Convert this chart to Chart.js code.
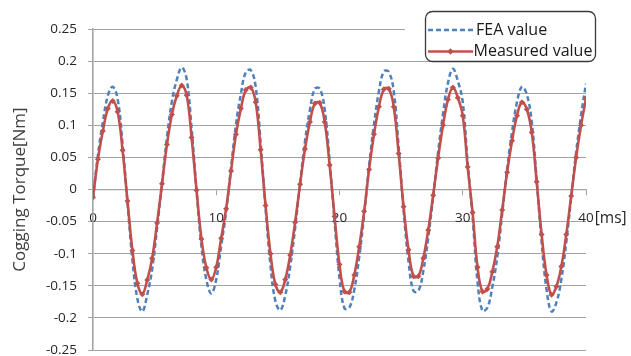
<!DOCTYPE html>
<html>
<head>
<meta charset="utf-8">
<script src="https://cdn.jsdelivr.net/npm/chart.js@4/dist/chart.umd.min.js"></script>
<style>
html,body{margin:0;padding:0;background:#ffffff;}
canvas{display:block;}
</style>
</head>
<body>
<canvas id="c" width="631" height="356"></canvas>
<script>
// ---- data ----
const TIME_STEP_MS = 0.4;               // sampling interval of the measured markers
const seriesNames = ['FEA value', 'Measured value'];
const measuredValues = [
 -0.012, 0.047, 0.091, 0.126, 0.138, 0.121, 0.061,-0.018,-0.095,-0.146,
 -0.163,-0.141,-0.107,-0.052, 0.009, 0.070, 0.117, 0.146, 0.162, 0.147,
  0.081,-0.001,-0.077,-0.122,-0.140,-0.121,-0.076,-0.030, 0.029, 0.086,
  0.126, 0.155, 0.159, 0.136, 0.062,-0.025,-0.100,-0.148,-0.160,-0.140,
 -0.102,-0.051, 0.008, 0.063, 0.105, 0.134, 0.135, 0.105, 0.038,-0.042,
 -0.117,-0.159,-0.160,-0.133,-0.089,-0.034, 0.031, 0.086, 0.129, 0.156,
  0.157, 0.129, 0.056,-0.027,-0.094,-0.135,-0.135,-0.107,-0.063,-0.009,
  0.049, 0.100, 0.140, 0.159, 0.143, 0.115, 0.035,-0.036,-0.121,-0.159,
 -0.155,-0.128,-0.089,-0.032, 0.027, 0.076, 0.115, 0.136, 0.125, 0.089,
  0.012,-0.070,-0.133,-0.164,-0.151,-0.120,-0.070,-0.010, 0.050, 0.100,
  0.142
];
const feaValues = [
 -0.014, 0.054, 0.105, 0.146, 0.160, 0.141, 0.071,-0.021,-0.110,-0.170,
 -0.190,-0.164,-0.124,-0.060, 0.010, 0.081, 0.137, 0.171, 0.190, 0.172,
  0.095,-0.001,-0.089,-0.141,-0.162,-0.140,-0.088,-0.035, 0.034, 0.101,
  0.149, 0.183, 0.186, 0.160, 0.073,-0.029,-0.118,-0.174,-0.188,-0.165,
 -0.120,-0.060, 0.009, 0.075, 0.124, 0.157, 0.157, 0.124, 0.045,-0.050,
 -0.138,-0.185,-0.184,-0.156,-0.105,-0.040, 0.037, 0.102, 0.153, 0.184,
  0.183, 0.153, 0.066,-0.032,-0.112,-0.158,-0.158,-0.127,-0.075,-0.011,
  0.058, 0.118, 0.166, 0.188, 0.169, 0.136, 0.041,-0.043,-0.144,-0.189,
 -0.184,-0.152,-0.105,-0.038, 0.032, 0.090, 0.136, 0.160, 0.148, 0.105,
  0.014,-0.082,-0.156,-0.190,-0.176,-0.140,-0.082,-0.012, 0.058, 0.116,
  0.165
];
const timeMs = measuredValues.map((_, i) => Math.round(i * TIME_STEP_MS * 10) / 10);
const xTicks = [0, 10, 20, 30, 40];
const xTickLabels = ['0', '10', '20', '30', '40'];
const xUnitLabel = '[ms]';
const yTicks = [-0.25, -0.2, -0.15, -0.1, -0.05, 0, 0.05, 0.1, 0.15, 0.2, 0.25];
const yTickLabels = ['-0.25', '-0.2', '-0.15', '-0.1', '-0.05', '0', '0.05', '0.1', '0.15', '0.2', '0.25'];
const yTitle = 'Cogging Torque[Nm]';

// ---- style ----
const FONT = '"Open Sans", "Noto Sans", sans-serif';
const BLUE = '#4F81BD';
const RED = '#C0504D';
const GRID = '#a3a3a3';
const TICK_FONT_SIZE = 13.5;

const toPoints = vals => vals.map((v, i) => ({ x: timeMs[i], y: v }));

const extras = {
  id: 'extras',
  afterDraw(chart) {
    const ctx = chart.ctx;
    const xs = chart.scales.x, ys = chart.scales.y;
    ctx.save();
    // unit after the last x tick label
    ctx.font = TICK_FONT_SIZE + 'px ' + FONT;
    const lastX = xs.getPixelForValue(xTicks[xTicks.length - 1]);
    const lastW = ctx.measureText(xTickLabels[xTickLabels.length - 1]).width;
    ctx.font = '15.5px ' + FONT;
    ctx.fillStyle = '#262626';
    ctx.textAlign = 'left';
    ctx.textBaseline = 'middle';
    ctx.fillText(xUnitLabel, lastX + lastW / 2 + 1, ys.getPixelForValue(0) + 29);

    // legend
    ctx.fillStyle = '#ffffff';
    ctx.fillRect(405, 0, 196, 58);
    ctx.beginPath();
    ctx.roundRect(425.5, 11.5, 170, 50, 7);
    ctx.lineWidth = 1.3;
    ctx.strokeStyle = '#3a3a3a';
    ctx.stroke();

    const ds = chart.data.datasets;
    // FEA
    ctx.beginPath();
    ctx.setLineDash([5, 3]);
    ctx.lineWidth = 2.5;
    ctx.strokeStyle = ds[0].borderColor;
    ctx.moveTo(428, 30); ctx.lineTo(474, 30);
    ctx.stroke();
    ctx.setLineDash([]);
    // Measured
    ctx.beginPath();
    ctx.lineWidth = 2.5;
    ctx.strokeStyle = ds[1].borderColor;
    ctx.moveTo(428, 51.5); ctx.lineTo(473, 51.5);
    ctx.stroke();
    ctx.beginPath();
    ctx.fillStyle = ds[1].borderColor;
    ctx.moveTo(450.5, 48.3); ctx.lineTo(453.7, 51.5); ctx.lineTo(450.5, 54.7); ctx.lineTo(447.3, 51.5);
    ctx.closePath(); ctx.fill();

    ctx.font = '16px ' + FONT;
    ctx.fillStyle = '#1a1a1a';
    ctx.textAlign = 'left';
    ctx.textBaseline = 'middle';
    ctx.fillText(ds[0].label, 476, 30);
    ctx.fillText(ds[1].label, 473.5, 51.5);
    ctx.restore();
  }
};

new Chart(document.getElementById('c'), {
  type: 'line',
  data: {
    datasets: [
      {
        label: seriesNames[0],
        data: toPoints(feaValues),
        borderColor: BLUE,
        backgroundColor: BLUE,
        borderWidth: 2.5,
        borderDash: [5, 3],
        pointRadius: 0,
        tension: 0.4,
        fill: false,
        order: 1
      },
      {
        label: seriesNames[1],
        data: toPoints(measuredValues),
        borderColor: RED,
        backgroundColor: RED,
        borderWidth: 2.6,
        pointStyle: 'rectRot',
        pointRadius: 3,
        pointBorderWidth: 0,
        pointBackgroundColor: RED,
        tension: 0.4,
        fill: false,
        order: 0
      }
    ]
  },
  options: {
    responsive: false,
    animation: false,
    devicePixelRatio: 1,
    layout: { padding: { left: 0, right: 45, top: 29, bottom: 6 } },
    plugins: { legend: { display: false }, tooltip: { enabled: false } },
    scales: {
      x: {
        type: 'linear',
        min: 0, max: 40,
        position: { y: 0 },
        afterBuildTicks: s => { s.ticks = xTicks.map(v => ({ value: v })); },
        afterFit: s => { s.height = 0; s.paddingTop = 0; s.paddingBottom = 0; },
        ticks: {
          callback: (v, i) => xTickLabels[i],
          color: '#262626',
          font: { family: FONT, size: TICK_FONT_SIZE },
          padding: 16,
          maxRotation: 0
        },
        grid: { drawOnChartArea: false, drawTicks: true, tickLength: 5, color: GRID, lineWidth: 1 },
        border: { display: true, color: GRID, width: 1.3 }
      },
      y: {
        type: 'linear',
        min: -0.25, max: 0.25,
        afterBuildTicks: s => { s.ticks = yTicks.map(v => ({ value: v })); },
        afterFit: s => { s.width = 93; s.paddingTop = 0; s.paddingBottom = 0; },
        ticks: {
          callback: (v, i) => yTickLabels[i],
          color: '#262626',
          font: { family: FONT, size: TICK_FONT_SIZE },
          padding: 11
        },
        grid: { color: GRID, lineWidth: 1, tickLength: 5 },
        border: { display: true, color: GRID, width: 1.6 },
        title: {
          display: true,
          text: yTitle,
          color: '#404040',
          font: { family: FONT, size: 17 },
          padding: { top: 10, bottom: 0 }
        }
      }
    }
  },
  plugins: [extras]
});
</script>
</body>
</html>
